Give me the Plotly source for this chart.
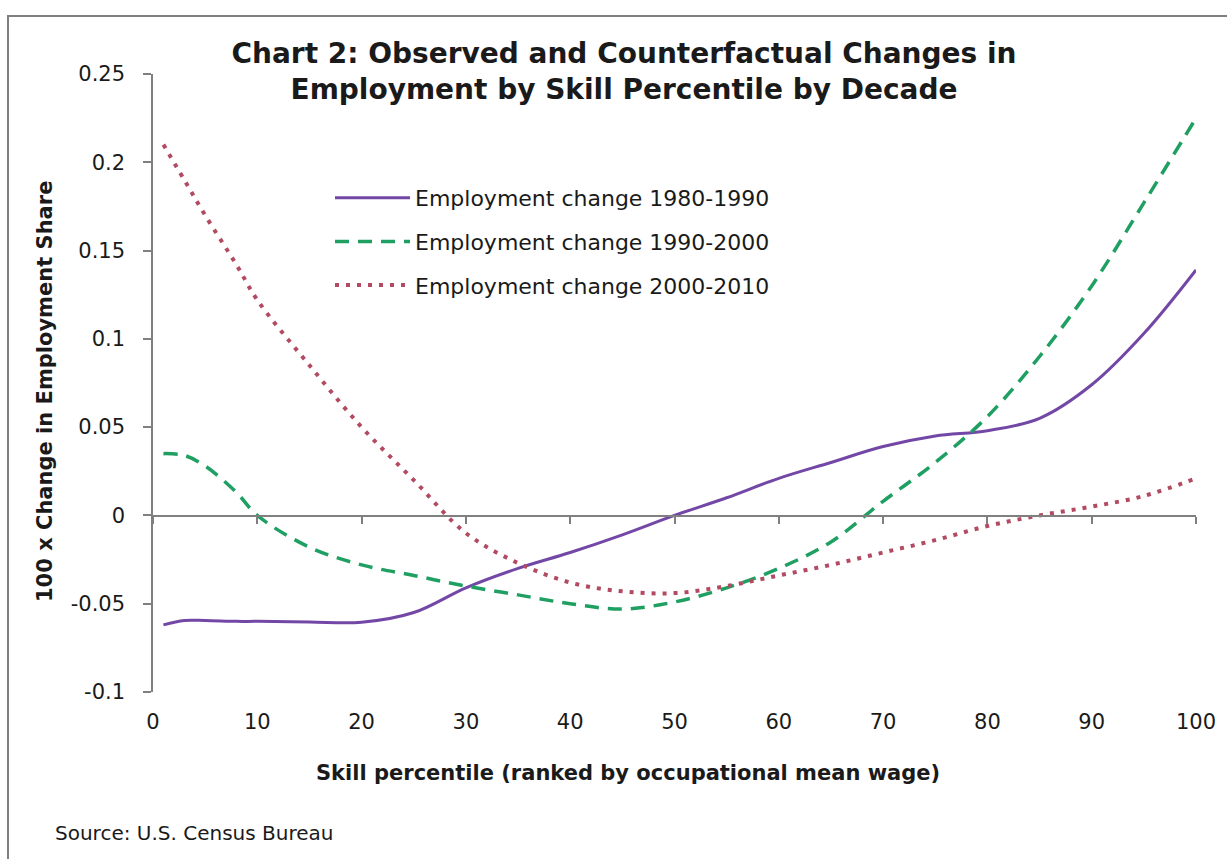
import plotly.graph_objects as go

# ---- data ----
pct = [1, 3, 5, 8, 10, 15, 20, 25, 30, 35, 40, 45, 50, 55, 60, 65, 70, 75, 80, 85, 90, 95, 100]

emp_1980_1990 = [-0.062, -0.0595, -0.0595, -0.060, -0.060, -0.0603, -0.0605, -0.055, -0.041, -0.030, -0.021,
                 -0.011, 0.000, 0.010, 0.021, 0.030, 0.039, 0.045, 0.048, 0.055, 0.074, 0.103, 0.139]

emp_1990_2000 = [0.035, 0.034, 0.028, 0.013, 0.000, -0.018, -0.028, -0.034, -0.040, -0.045, -0.050,
                 -0.053, -0.049, -0.041, -0.030, -0.015, 0.008, 0.030, 0.056, 0.090, 0.130, 0.177, 0.225]

emp_2000_2010 = [0.210, 0.190, 0.170, 0.142, 0.122, 0.085, 0.050, 0.020, -0.010, -0.027, -0.038,
                 -0.043, -0.044, -0.040, -0.034, -0.028, -0.021, -0.014, -0.006, 0.000, 0.005, 0.011, 0.021]

series_names = ["Employment change 1980-1990", "Employment change 1990-2000", "Employment change 2000-2010"]
x_ticks = [0, 10, 20, 30, 40, 50, 60, 70, 80, 90, 100]
y_ticks = [0.25, 0.2, 0.15, 0.1, 0.05, 0, -0.05, -0.1]
y_tick_labels = ["0.25", "0.2", "0.15", "0.1", "0.05", "0", "-0.05", "-0.1"]

FONT = "DejaVu Sans"
TXT = "#1a1a1a"
W, H = 1227, 859
L, R, T, B = 153, 31, 74, 167
pw, ph = W - L - R, H - T - B

def px_x(p):
    return (p - L) / pw

def px_y(p):
    return (H - B - p) / ph

fig = go.Figure()
fig.add_trace(go.Scatter(x=pct, y=emp_1980_1990, name=series_names[0], mode="lines",
                         line=dict(color="#7347A6", width=3, shape="spline", smoothing=1.0),
                         legendgroup="a"))
fig.add_trace(go.Scatter(x=pct, y=emp_1990_2000, name=series_names[1], mode="lines",
                         line=dict(color="#1FA062", width=3.5, dash="14px,9px", shape="spline", smoothing=1.0),
                         legendgroup="b"))
fig.add_trace(go.Scatter(x=pct, y=emp_2000_2010, name=series_names[2], mode="lines",
                         line=dict(color="#B24A62", width=4, dash="4px,7px", shape="spline", smoothing=1.0),
                         legendgroup="c"))
# invisible trace to carry the zero-line axis
fig.add_trace(go.Scatter(x=[0, 100], y=[0, 0], xaxis="x2", mode="lines",
                         line=dict(width=0), showlegend=False, hoverinfo="skip"))

fig.update_layout(
    width=W, height=H,
    margin=dict(l=L, r=R, t=T, b=B),
    paper_bgcolor="white", plot_bgcolor="white",
    font=dict(family=FONT, color=TXT),
    title=dict(text="<b>Chart 2: Observed and Counterfactual Changes in<br>Employment by Skill Percentile by Decade</b>",
               x=624 / W, xanchor="center", xref="container",
               y=1 - 63 / H, yanchor="top", yref="container",
               font=dict(family=FONT, size=28, color=TXT)),
    xaxis=dict(range=[0, 100], tickvals=x_ticks, showline=False, ticks="", showgrid=False,
               zeroline=False, tickfont=dict(size=21, family=FONT), ticklabelstandoff=15),
    xaxis2=dict(range=[0, 100], tickvals=x_ticks, overlaying="x", anchor="free",
                position=px_y(516), side="bottom", showline=True, linecolor="#808080", linewidth=1.5,
                ticks="outside", ticklen=7, tickcolor="#808080", tickwidth=1.5,
                showticklabels=False, showgrid=False, zeroline=False),
    yaxis=dict(range=[-0.1, 0.25], tickvals=y_ticks, ticktext=y_tick_labels, showline=True,
               linecolor="#808080", linewidth=1.5, ticks="outside", ticklen=8, tickcolor="#808080",
               tickwidth=1.5, showgrid=False, zeroline=False, tickfont=dict(size=21, family=FONT),
               ticklabelstandoff=14),
    legend=dict(x=px_x(330), y=px_y(177), xanchor="left", yanchor="top",
                bgcolor="rgba(0,0,0,0)", font=dict(size=22, family=FONT),
                itemwidth=75, tracegroupgap=12, traceorder="grouped"),
    showlegend=True,
)

# axis titles placed as in the reference
fig.add_annotation(text="<b>Skill percentile (ranked by occupational mean wage)</b>", xref="paper", yref="paper",
                   x=px_x(628), y=px_y(773), xanchor="center", yanchor="middle", showarrow=False,
                   font=dict(size=21, family=FONT, color=TXT))
fig.add_annotation(text="<b>100 x Change in Employment Share</b>", xref="paper", yref="paper",
                   x=px_x(45), y=px_y(392), xanchor="center", yanchor="middle", showarrow=False,
                   textangle=-90, font=dict(size=21, family=FONT, color=TXT))

# outer chart frame (only top and left edges fall inside the picture)
fig.add_shape(type="rect", xref="paper", yref="paper",
              x0=px_x(8), x1=px_x(1240), y0=px_y(880), y1=px_y(16),
              line=dict(color="#7f7f7f", width=2), fillcolor="rgba(0,0,0,0)", layer="below")

fig.add_annotation(text="Source: U.S. Census Bureau", xref="paper", yref="paper",
                   x=px_x(53), y=px_y(833), xanchor="left", yanchor="middle", showarrow=False,
                   font=dict(size=20, family=FONT, color=TXT))

fig.write_html("out.html")
